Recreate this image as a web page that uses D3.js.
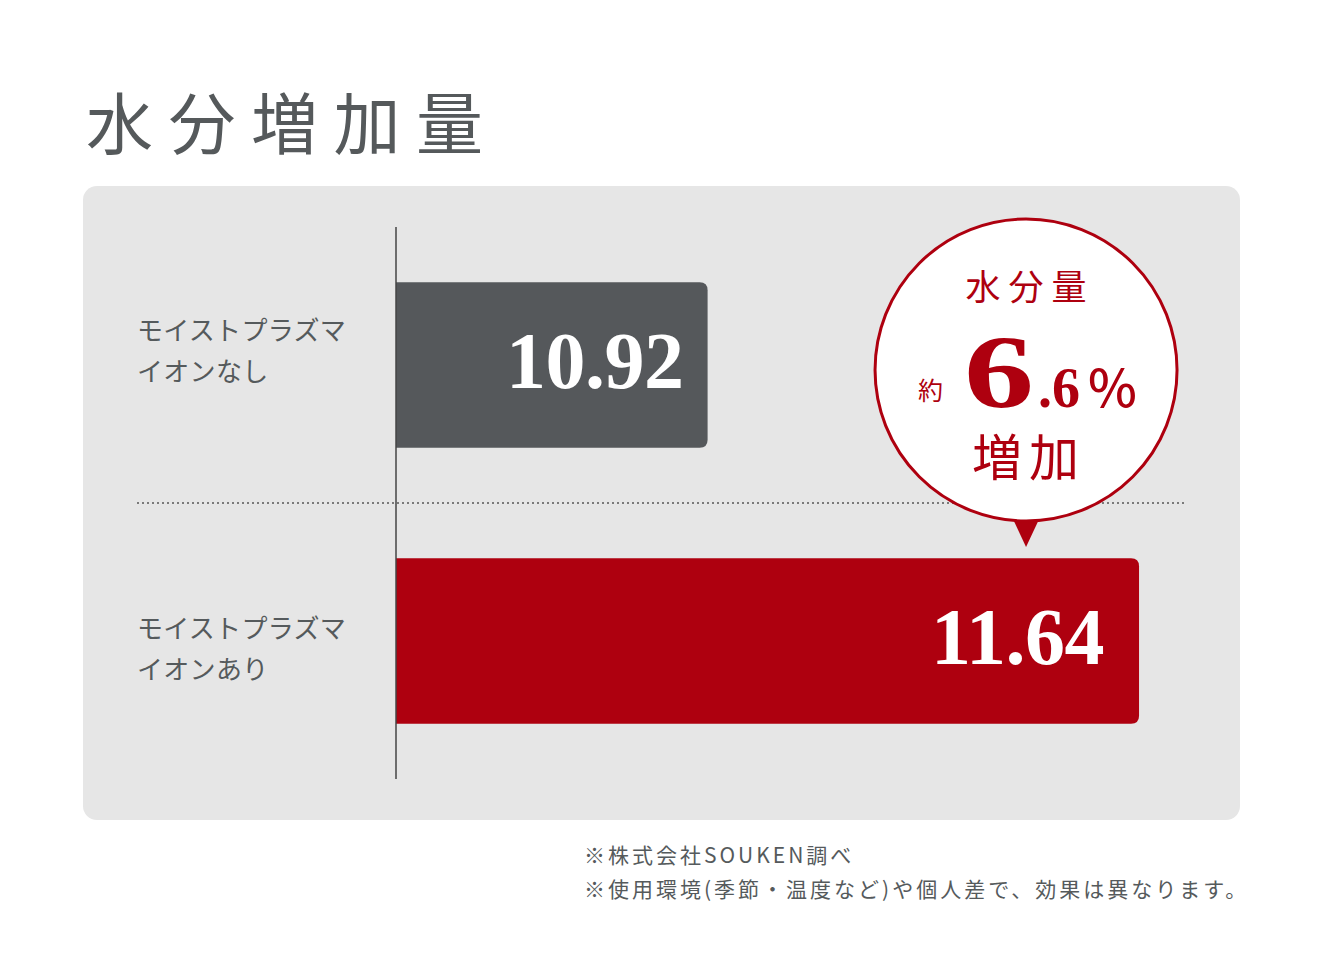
<!DOCTYPE html>
<html>
<head>
<meta charset="utf-8">
<script src="https://cdn.jsdelivr.net/npm/d3@7"></script>
<style>
  html, body { margin: 0; padding: 0; background: #fff; }
  svg { display: block; }
</style>
</head>
<body>
<svg id="chart" width="1323" height="978"></svg>
<script>
// data
const categories = ['モイストプラズマ\nイオンなし', 'モイストプラズマ\nイオンあり'];
const values = [10.92, 11.64];
const barColors = ['#55585b', '#ae000f'];
const increasePct = '6.6';
const notes = ['※株式会社SOUKEN調べ', '※使用環境(季節・温度など)や個人差で、効果は異なります。'];

const jp = '"Noto Sans CJK JP", "Noto Sans", sans-serif';
const serif = '"Liberation Serif", "DejaVu Serif", serif';
const svg = d3.select('#chart');

// title
svg.append('text')
  .attr('x', 86).attr('y', 149)
  .attr('font-family', jp).attr('font-size', 67)
  .attr('letter-spacing', 15.5)
  .attr('fill', '#55595b')
  .text('水分増加量');

// panel
svg.append('rect')
  .attr('x', 83).attr('y', 186)
  .attr('width', 1157).attr('height', 634)
  .attr('rx', 14)
  .attr('fill', '#e6e6e6');

const x = d3.scaleLinear().domain([10.4, 11.7]).range([396, 1175]);
const y = d3.scaleBand().domain(categories).range([227, 779])
  .paddingInner(0.4).paddingOuter(0.2);

// dotted separator between the two bars
const midY = (y(categories[0]) + y.bandwidth() + y(categories[1])) / 2;
svg.append('line')
  .attr('x1', 137).attr('x2', 1187)
  .attr('y1', midY).attr('y2', midY)
  .attr('stroke', '#7a7a7a').attr('stroke-width', 2)
  .attr('stroke-dasharray', '2,3');

// bars, rounded on the right side only
function barPath(x0, x1, y0, h, r) {
  return `M${x0},${y0}H${x1 - r}Q${x1},${y0} ${x1},${y0 + r}V${y0 + h - r}Q${x1},${y0 + h} ${x1 - r},${y0 + h}H${x0}Z`;
}

svg.append('g')
  .selectAll('path')
  .data(values)
  .enter()
  .append('path')
  .attr('d', (d, i) => barPath(x.range()[0], x(d), y(categories[i]), y.bandwidth(), 8))
  .attr('fill', (d, i) => barColors[i]);

// axis line
svg.append('line')
  .attr('x1', 396).attr('x2', 396)
  .attr('y1', 227).attr('y2', 779)
  .attr('stroke', '#444').attr('stroke-width', 1.5);

// value labels
const valuePad = [24, 35];
svg.append('g')
  .selectAll('text')
  .data(values)
  .enter()
  .append('text')
  .attr('x', (d, i) => x(d) - valuePad[i])
  .attr('y', (d, i) => y(categories[i]) + y.bandwidth() / 2 + 23)
  .attr('text-anchor', 'end')
  .attr('font-family', serif).attr('font-weight', 'bold')
  .attr('font-size', 80).attr('letter-spacing', -0.5)
  .attr('fill', '#fff')
  .text(d => d.toFixed(2));

// category labels
const labelShift = [-25, -3];
const cat = svg.append('g')
  .selectAll('text')
  .data(categories)
  .enter()
  .append('text')
  .attr('font-family', jp).attr('font-size', 26).attr('letter-spacing', 0.3)
  .attr('fill', '#555a5c');
cat.selectAll('tspan')
  .data((d, i) => d.split('\n').map(t => ({ t, i })))
  .enter()
  .append('tspan')
  .attr('x', 137)
  .attr('y', (d, j) => y(categories[d.i]) + y.bandwidth() / 2 + labelShift[d.i] + j * 41)
  .text(d => d.t);

// callout bubble
const cx = x(values[1]) - 113, cy = 370, r = 151;
const red = '#ae000f';
const bubble = svg.append('g');
bubble.append('path')
  .attr('d', `M${cx - 15},${cy + r - 6}L${cx},${cy + r + 26}L${cx + 15},${cy + r - 6}Z`)
  .attr('fill', red);
bubble.append('circle')
  .attr('cx', cx).attr('cy', cy).attr('r', r)
  .attr('fill', '#fff').attr('stroke', red).attr('stroke-width', 3);
bubble.append('text')
  .attr('x', cx + 4).attr('y', cy - 70)
  .attr('text-anchor', 'middle')
  .attr('font-family', jp).attr('font-size', 35).attr('letter-spacing', 8)
  .attr('fill', red)
  .text('水分量');
bubble.append('text')
  .attr('x', cx - 108).attr('y', cy + 30)
  .attr('font-family', jp).attr('font-size', 25)
  .attr('fill', red)
  .text('約');
const [whole, frac] = increasePct.split('.');
bubble.append('text')
  .attr('x', cx - 62).attr('y', cy + 37)
  .attr('font-family', serif).attr('font-weight', 'bold').attr('font-size', 104)
  .attr('textLength', 70).attr('lengthAdjust', 'spacingAndGlyphs')
  .attr('fill', red)
  .text(whole);
bubble.append('text')
  .attr('x', cx + 12).attr('y', cy + 37)
  .attr('font-family', serif).attr('font-weight', 'bold').attr('font-size', 56)
  .attr('fill', red)
  .text('.' + frac);
bubble.append('text')
  .attr('x', cx + 62).attr('y', cy + 37)
  .attr('font-family', jp).attr('font-weight', 500).attr('font-size', 52)
  .attr('fill', red)
  .text('%');
bubble.append('text')
  .attr('x', cx + 3).attr('y', cy + 106)
  .attr('text-anchor', 'middle')
  .attr('font-family', jp).attr('font-size', 50).attr('letter-spacing', 7)
  .attr('fill', red)
  .text('増加');

// footnotes
svg.append('g')
  .selectAll('text')
  .data(notes)
  .enter()
  .append('text')
  .attr('x', 584)
  .attr('y', (d, i) => 863 + i * 34)
  .attr('font-family', jp).attr('font-size', 21).attr('letter-spacing', 3)
  .attr('fill', '#555a5c')
  .text(d => d);
</script>
</body>
</html>
